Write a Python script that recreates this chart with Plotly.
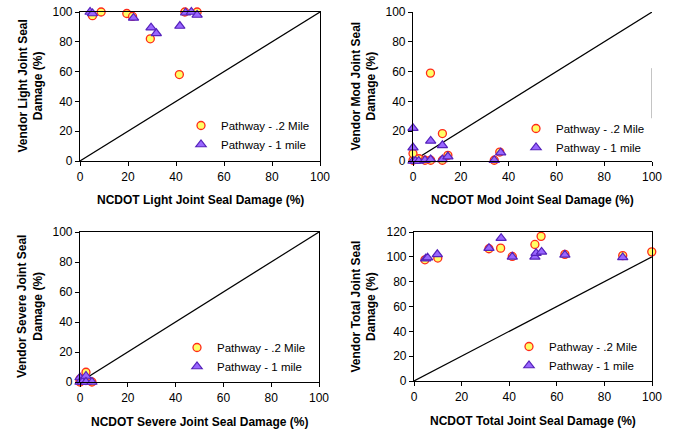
import plotly.graph_objects as go

# NCDOT (x) vs vendor (y) joint seal damage, %
light_02_x = [5.2, 8.8, 19.5, 21.9, 29.3, 41.4, 43.7, 48.8]
light_02_y = [97.5, 100, 99, 97, 82, 58, 100, 100]
light_1_x = [4.2, 5.2, 22.3, 29.6, 31.8, 41.6, 44.0, 46.4, 48.8]
light_1_y = [100, 99, 96, 89.5, 85.7, 90.6, 99.5, 100, 98]

mod_02_x = [0, 0, 2.5, 5, 7.3, 7.4, 12.3, 12.3, 14.6, 34.0, 36.3]
mod_02_y = [0.5, 5, 1.5, 0.5, 59, 0.5, 18.4, 0.5, 3.8, 0.5, 6]
mod_1_x = [0, 0, 0, 1, 2.4, 5, 7.4, 7.4, 12.3, 12.3, 14.6, 34, 36.7]
mod_1_y = [22, 9, 0, 0, 0, 0.5, 13.5, 1, 10.5, 1, 3, 0.5, 5.6]

sev_02_x = [0, 0, 2.5, 2.5, 5]
sev_02_y = [0, 2, 6.5, 1, 0]
sev_1_x = [0, 0, 1, 2.5, 2.5, 5]
sev_1_y = [3, 0, 0, 4, 0, 0]

tot_02_x = [4.6, 10, 31.5, 36.4, 41.3, 50.8, 53.4, 63.4, 87.7, 99.9]
tot_02_y = [97.6, 99, 106.5, 107, 100.3, 110, 116.5, 102, 101, 104]
tot_1_x = [4.9, 5.7, 9.8, 31.5, 36.6, 41.3, 50.8, 51.3, 53.6, 63.4, 87.7]
tot_1_y = [98.5, 99.3, 102, 107, 115, 100, 100, 103, 104, 101.6, 99.5]

equal_line = [0, 100]

series_names = ['Pathway - .2 Mile', 'Pathway - 1 mile']
x_titles = ['NCDOT Light Joint Seal Damage (%)', 'NCDOT Mod Joint Seal Damage (%)',
            'NCDOT Severe Joint Seal Damage (%)', 'NCDOT Total Joint Seal Damage (%)']
y_titles = ['Vendor Light Joint Seal<br>Damage (%)', 'Vendor Mod Joint Seal<br>Damage (%)',
            'Vendor Severe Joint Seal<br>Damage (%)', 'Vendor Total Joint Seal<br>Damage (%)']
y_max = [100, 100, 100, 120]

panels = [(light_02_x, light_02_y, light_1_x, light_1_y),
          (mod_02_x, mod_02_y, mod_1_x, mod_1_y),
          (sev_02_x, sev_02_y, sev_1_x, sev_1_y),
          (tot_02_x, tot_02_y, tot_1_x, tot_1_y)]

W, H = 677, 432

def px(x):
    return x / W

def py(y):
    return 1 - y / H

# plot areas in pixels: left, right, top, bottom
boxes = [(80, 320, 12, 161), (413, 652, 12, 161), (80, 319, 232, 382), (414, 652, 232, 381)]
legend_pos = [(181, 111), (516, 114), (177, 333), (509, 332)]
ytitle_x = [30, 363, 30, 363]
xtitle_y = [200, 200, 422, 421]

font = 'Liberation Sans, Arial, sans-serif'
circle = dict(symbol='circle', size=8, color='#FFFF66', line=dict(color='#FF2A1A', width=1.3))
triangle = dict(symbol='triangle-up', size=9, color='#9966FF', line=dict(color='#5522BB', width=1.2))

fig = go.Figure()
layout = dict(width=W, height=H, margin=dict(l=0, r=0, t=0, b=0),
              paper_bgcolor='white', plot_bgcolor='white',
              font=dict(family=font, size=12, color='black'))
annotations = []

for i, (x02, y02, x1, y1) in enumerate(panels):
    n = '' if i == 0 else str(i + 1)
    xa, ya = 'x' + n, 'y' + n
    leg = 'legend' + n
    l, r, t, b = boxes[i]

    fig.add_trace(go.Scatter(x=equal_line, y=equal_line, mode='lines', xaxis=xa, yaxis=ya,
                             line=dict(color='black', width=1.2), showlegend=False, hoverinfo='skip'))
    fig.add_trace(go.Scatter(x=x02, y=y02, mode='markers', name=series_names[0], marker=circle,
                             xaxis=xa, yaxis=ya, legend=leg, cliponaxis=False))
    fig.add_trace(go.Scatter(x=x1, y=y1, mode='markers', name=series_names[1], marker=triangle,
                             xaxis=xa, yaxis=ya, legend=leg, cliponaxis=False))

    boxed = i != 1
    layout['xaxis' + n] = dict(domain=[px(l), px(r)], range=[0, 100], dtick=20, anchor=ya,
                               automargin=False, ticklabeloverflow='allow',
                               showgrid=False, zeroline=False, showline=True, linecolor='black',
                               linewidth=1.2, mirror=boxed, ticks='outside', ticklen=4,
                               tickcolor='black', tickfont=dict(size=12))
    layout['yaxis' + n] = dict(domain=[py(b), py(t)], range=[0, y_max[i]], dtick=20,
                               anchor=xa, automargin=False, ticklabeloverflow='allow',
                               showgrid=False, zeroline=False, showline=True,
                               linecolor='black', linewidth=1.2, mirror=boxed, ticks='outside',
                               ticklen=4, tickcolor='black', tickfont=dict(size=12))
    lx, ly = legend_pos[i]
    layout[leg] = dict(x=px(lx), y=py(ly), xanchor='left', yanchor='top',
                       bgcolor='rgba(0,0,0,0)', font=dict(size=11.5), tracegroupgap=0)

    annotations.append(dict(text='<b>' + x_titles[i] + '</b>', xref='paper', yref='paper',
                            x=px((l + r) / 2), y=py(xtitle_y[i]), showarrow=False,
                            xanchor='center', yanchor='middle', font=dict(size=12)))
    annotations.append(dict(text='<b>' + y_titles[i] + '</b>', xref='paper', yref='paper',
                            x=px(ytitle_x[i]), y=py((t + b) / 2), showarrow=False,
                            textangle=-90, xanchor='center', yanchor='middle',
                            font=dict(size=12)))

layout['annotations'] = annotations
# stray partial frame line on the right of the Mod panel
layout['shapes'] = [dict(type='line', xref='x2', yref='y2', x0=100, x1=100, y0=28.7, y1=62.3,
                         line=dict(color='#888888', width=1))]
fig.update_layout(**layout)

# drop the default 8px page margin so the figure fills the window exactly
fig.write_html("out.html", config={'displayModeBar': False},
               post_script="document.body.style.margin='0';")
